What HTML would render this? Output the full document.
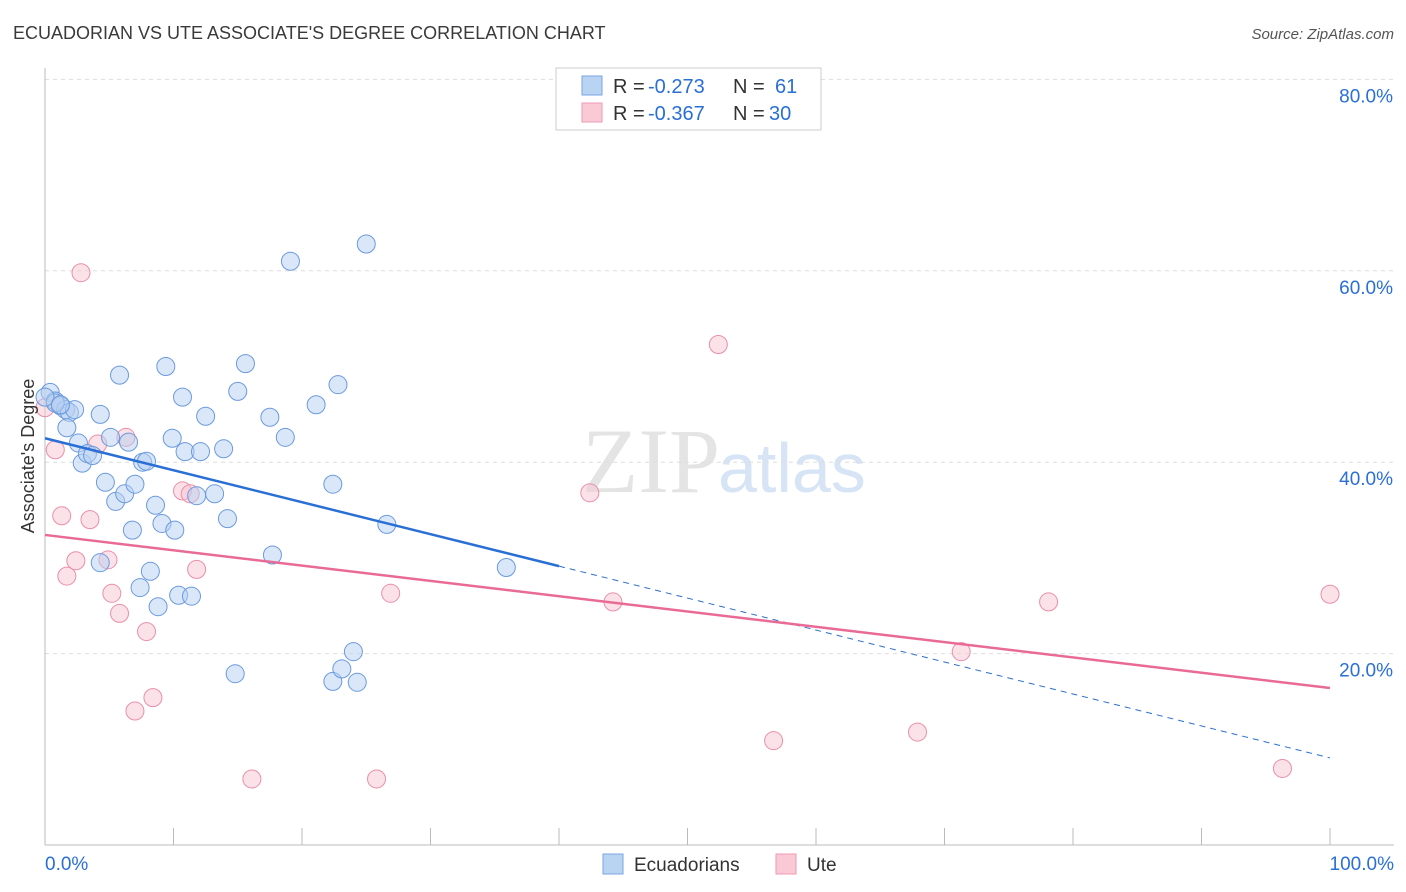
<!DOCTYPE html>
<html><head><meta charset="utf-8"><style>
body{margin:0;background:#fff;font-family:"Liberation Sans",sans-serif;}
svg{display:block}
</style></head><body>
<svg id="chart" width="1406" height="892" xmlns="http://www.w3.org/2000/svg">
<text x="13" y="39" font-size="18" fill="#3a3a3a">ECUADORIAN VS UTE ASSOCIATE'S DEGREE CORRELATION CHART</text>
<text x="1394" y="39" font-size="15" fill="#555" text-anchor="end" font-style="italic">Source: ZipAtlas.com</text>
<text x="720" y="492" font-size="92" fill="#e4e4e4" text-anchor="end" font-family="Liberation Serif">ZIP</text>
<text x="718" y="492" font-size="70" fill="#d6e4f5">atlas</text>
<g id="grid"></g><g id="axes"></g><g id="pts"></g><g id="lines"></g>
<g>
<rect x="556" y="68" width="265" height="62" fill="#fff" stroke="#ccc"/>
<rect x="582" y="76" width="20" height="19" fill="#b9d3f3" stroke="#7aa6e0"/>
<rect x="582" y="103" width="20" height="19" fill="#f9c9d6" stroke="#ee9ab2"/>
<text x="613" y="93" font-size="20" fill="#333">R =</text>
<text x="648" y="93" font-size="20" fill="#2a6fd6">-0.273</text>
<text x="733" y="93" font-size="20" fill="#333">N =</text>
<text x="775" y="93" font-size="20" fill="#2a6fd6">61</text>
<text x="613" y="120" font-size="20" fill="#333">R =</text>
<text x="648" y="120" font-size="20" fill="#2a6fd6">-0.367</text>
<text x="733" y="120" font-size="20" fill="#333">N =</text>
<text x="769" y="120" font-size="20" fill="#2a6fd6">30</text>
</g>
<g>
<rect x="603" y="854" width="20" height="20" fill="#b9d3f3" stroke="#7aa6e0"/>
<text x="634" y="871" font-size="19" fill="#333">Ecuadorians</text>
<rect x="776" y="854" width="20" height="20" fill="#f9c9d6" stroke="#ee9ab2"/>
<text x="807" y="871" font-size="19" fill="#333">Ute</text>
</g>
<text transform="translate(34,456) rotate(-90)" font-size="18" fill="#333" text-anchor="middle">Associate's Degree</text>
</svg>
<script>
const blueX=[0.4,0.8,1.2,1.6,1.9,2.3,1.7,2.6,2.9,3.3,3.7,4.3,4.3,4.7,5.1,5.5,5.8,6.2,6.5,6.8,7.0,7.4,7.6,7.9,8.6,8.8,9.1,9.4,9.9,10.1,8.2,10.4,10.7,10.9,11.4,11.8,12.1,12.5,13.2,13.9,14.2,14.8,15.0,15.6,17.5,17.7,18.7,19.1,21.1,22.4,22.8,22.4,23.1,24.0,24.3,25.0,26.6,35.9,0.8,0.0,1.2];
const blueY=[47.3,46.4,45.9,45.5,45.2,45.5,43.6,42.0,39.9,40.9,40.7,45.0,29.5,37.9,42.6,35.9,49.1,36.7,42.1,32.9,37.7,26.9,40.0,40.1,35.5,24.9,33.6,50.0,42.5,32.9,28.6,26.1,46.8,41.1,26.0,36.5,41.1,44.8,36.7,41.4,34.1,17.9,47.4,50.3,44.7,30.3,42.6,61.0,46.0,37.7,48.1,17.1,18.4,20.2,17.0,62.8,33.5,29.0,46.2,46.8,46.0];
const pinkX=[0.0,0.8,1.3,1.7,2.4,2.8,3.5,4.1,4.9,5.2,5.8,6.3,7.0,7.9,8.4,10.7,11.3,11.8,16.1,25.8,26.9,42.4,44.2,52.4,56.7,67.9,71.3,78.1,96.3,100.0];
const pinkY=[45.7,41.3,34.4,28.1,29.7,59.8,34.0,41.9,29.8,26.3,24.2,42.6,14.0,22.3,15.4,37.0,36.7,28.8,6.9,6.9,26.3,36.8,25.4,52.3,10.9,11.8,20.2,25.4,8.0,26.2];
const blueLine=[42.5,9.1], pinkLine=[32.4,16.4], blueSolidEnd=40;
const yTicks=[20,40,60,80];
const xLabels=["0.0%","100.0%"];
const X=v=>45+v*12.85, Y=v=>845-v*9.57;
const NS="http://www.w3.org/2000/svg";
function mk(t,a,p){const e=document.createElementNS(NS,t);for(const k in a)e.setAttribute(k,a[k]);document.getElementById(p).appendChild(e);return e;}
yTicks.forEach(t=>{
 const l=mk('line',{x1:45,x2:1394,y1:Y(t),y2:Y(t),stroke:'#ddd','stroke-dasharray':'4,4'},'grid');
 
 
 const tx=mk('text',{x:1393,y:Y(t)+23,'font-size':19,fill:'#2a6fd6','text-anchor':'end'},'grid');
 tx.textContent=t+'.0%';
 
 
});
const ax=mk('line',{x1:45,x2:45,y1:68,y2:845,stroke:'#bbb'},'axes');


const bx=mk('line',{x1:45,x2:1394,y1:845,y2:845,stroke:'#bbb'},'axes');


for(let i=1;i<=10;i++){const t=mk('line',{x1:X(i*10),x2:X(i*10),y1:828,y2:845,stroke:'#bbb'},'axes');
 
 }
[[0,'start',45],[100,'end',1394]].forEach((d,i)=>{const t=mk('text',{x:d[2],y:870,'font-size':19,fill:'#2a6fd6','text-anchor':d[1]},'axes');t.textContent=xLabels[i];
 
 });
function pts(xs,ys,fill,stroke,name){xs.forEach((x,i)=>{const c=mk('circle',{cx:X(x),cy:Y(ys[i]),r:9,fill:fill,'fill-opacity':0.5,stroke:stroke,'stroke-width':1},'pts');
 
 });}
pts(pinkX,pinkY,'#f7c3d1','#ea8fa9','ute-point');
pts(blueX,blueY,'#b6d0f2','#6a9ade','ecuadorian-point');
const by=x=>blueLine[0]+(blueLine[1]-blueLine[0])*x/100;
const b1=mk('line',{x1:X(0),y1:Y(by(0)),x2:X(blueSolidEnd),y2:Y(by(blueSolidEnd)),stroke:'#2a6fd6','stroke-width':2.5},'lines');


const b2=mk('line',{x1:X(blueSolidEnd),y1:Y(by(blueSolidEnd)),x2:X(100),y2:Y(by(100)),stroke:'#2a6fd6','stroke-width':1,'stroke-dasharray':'6,5'},'lines');


const p1=mk('line',{x1:X(0),y1:Y(pinkLine[0]),x2:X(100),y2:Y(pinkLine[1]),stroke:'#e96b95','stroke-width':2.5},'lines');


</script>
</body></html>
